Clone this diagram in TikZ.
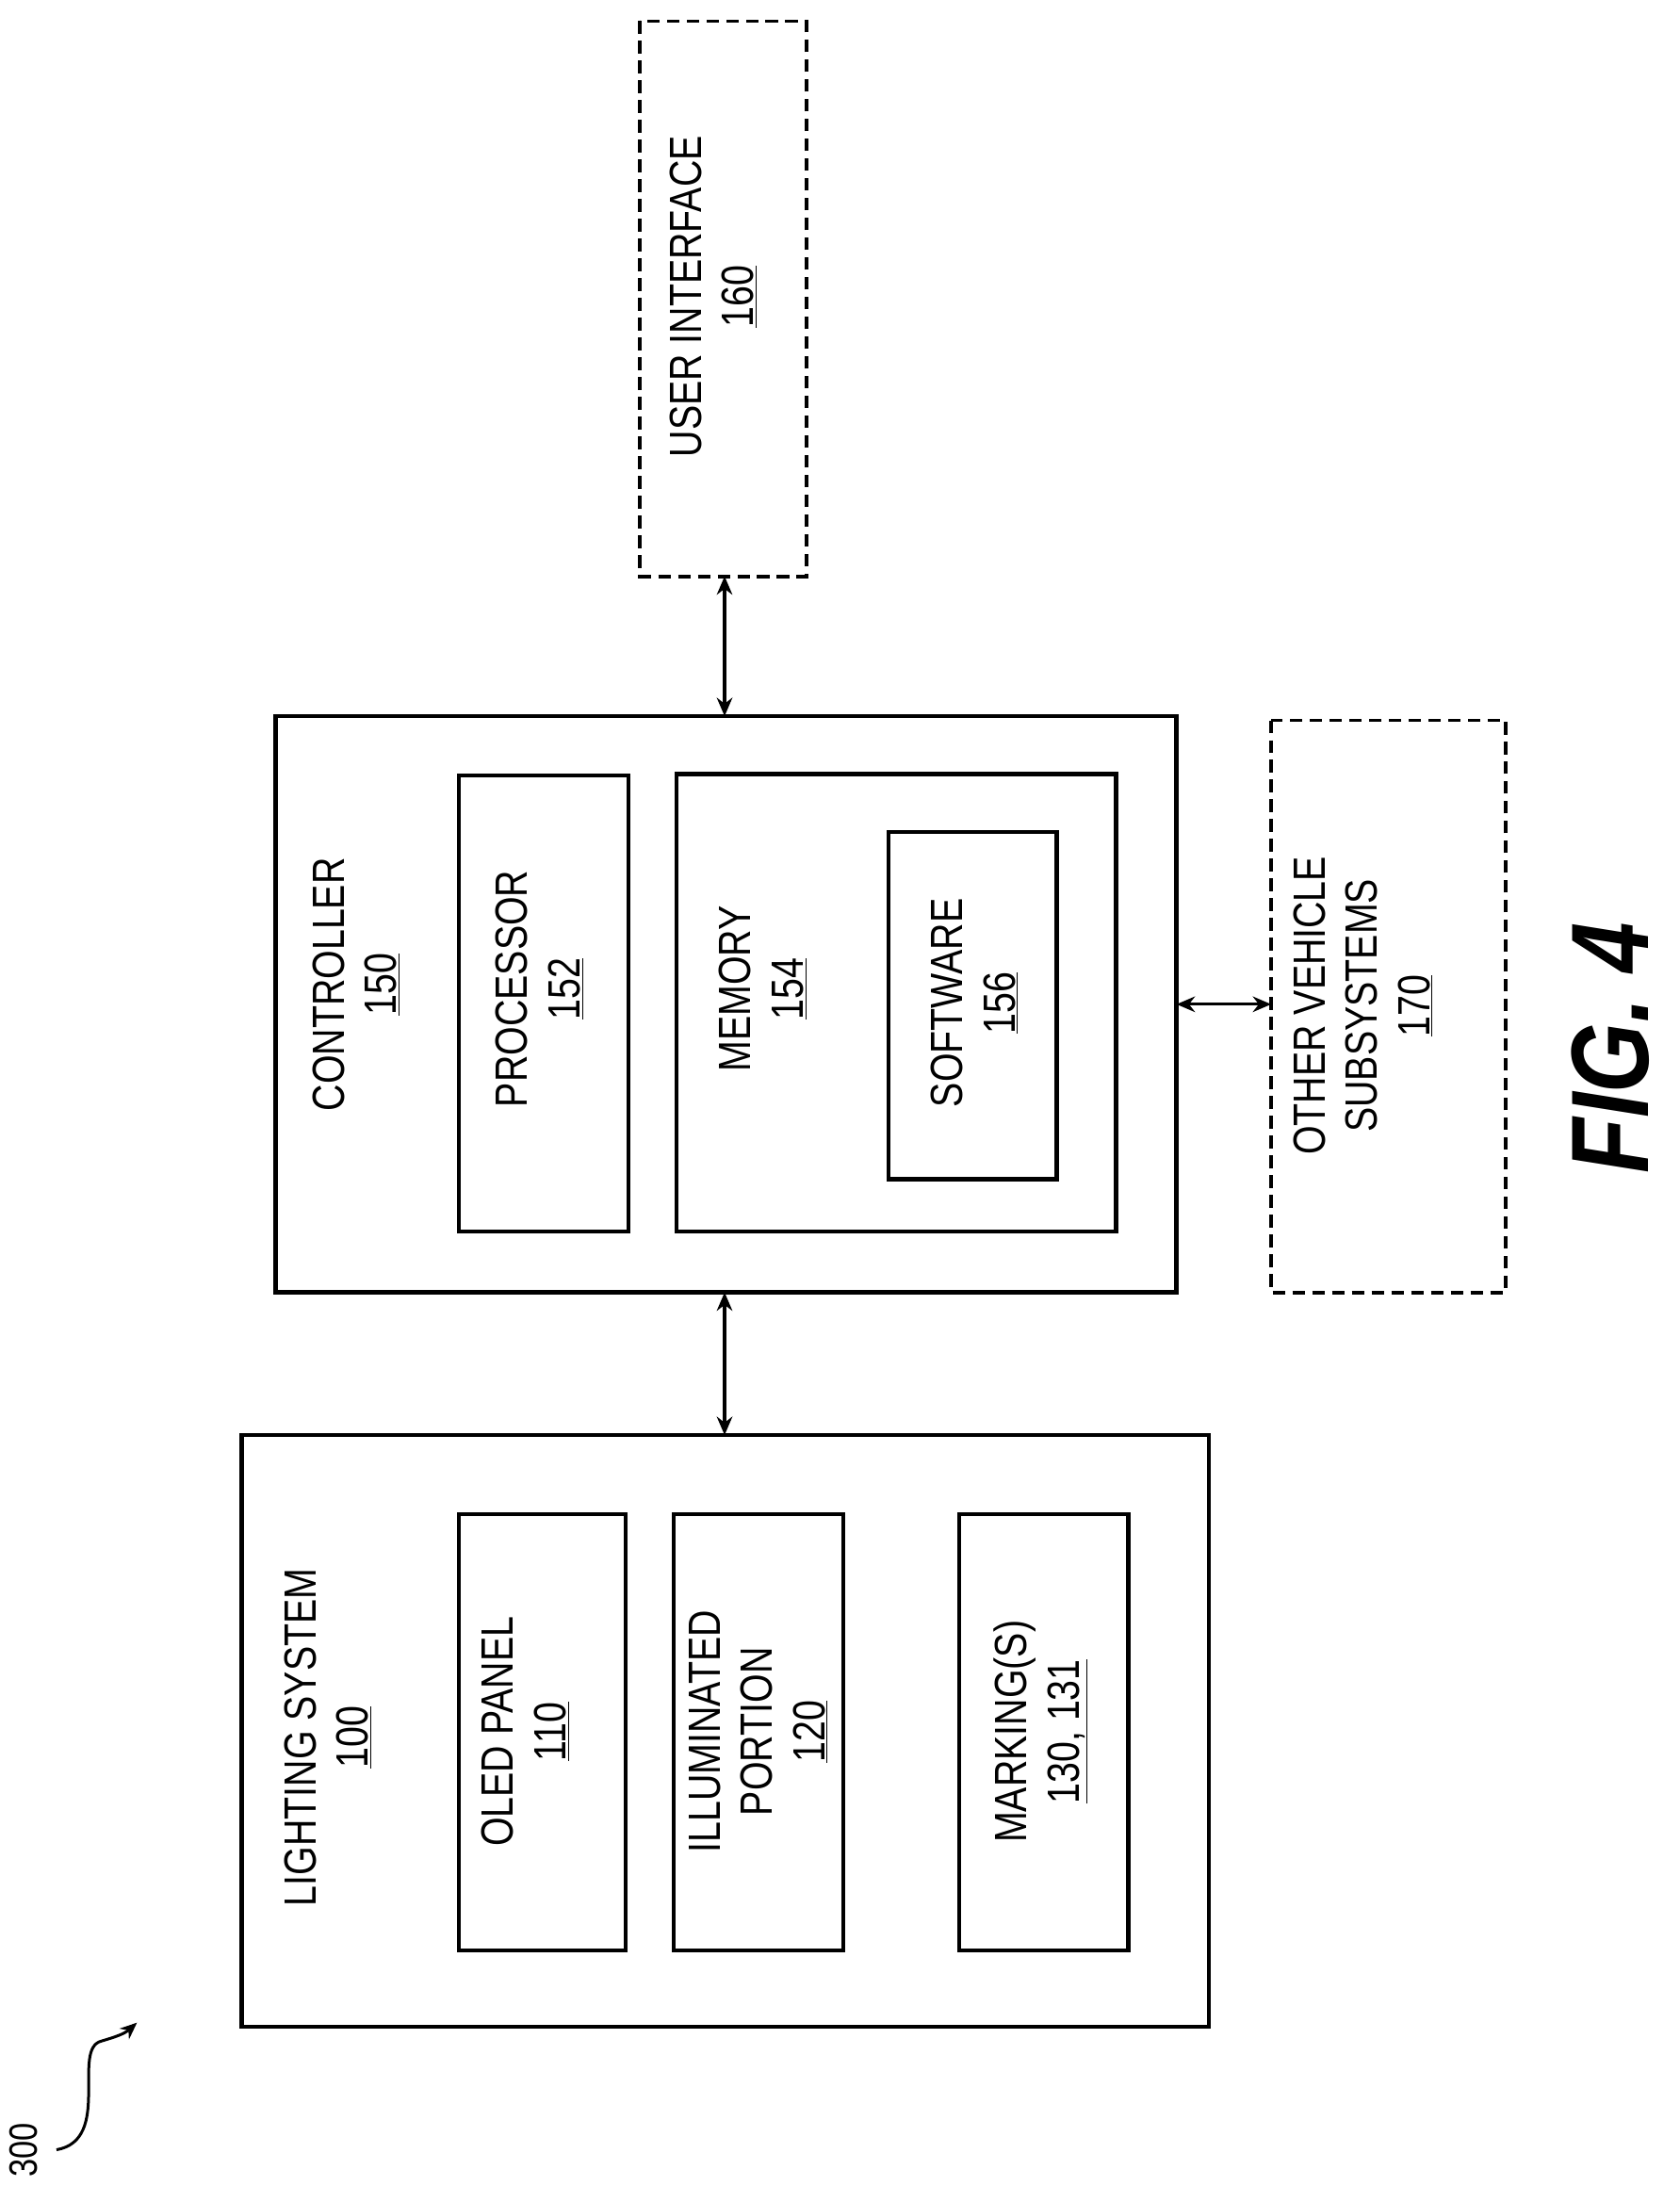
\documentclass[tikz,border=0pt]{standalone}
\usepackage{fontspec}
\setmainfont{Liberation Sans}[FakeStretch=0.82]
\usetikzlibrary{arrows.meta}
\begin{document}
\begin{tikzpicture}[x=1pt,y=-1pt,
  box/.style={draw,line width=3pt},
  dbox/.style={draw,line width=2.6pt,dash pattern=on 9pt off 5pt},
  lbl/.style={rotate=90,align=center,font=\fontsize{32}{37}\selectfont,inner sep=0},
  arr/.style={line width=2.2pt,{Stealth[length=13pt,width=11pt]}-{Stealth[length=13pt,width=11pt]}}]
\useasboundingbox (0,0) rectangle (1189,1559);
% user interface
\draw[dbox] (453,15) rectangle (571,408);
\coordinate (uib) at (513,408);
\node[lbl] (uit) at (505,210) {USER INTERFACE\\\underline{160}};
% controller
\draw[box] (195,507) rectangle (833,915);
\coordinate (ctop) at (513,507); \coordinate (cbot) at (513,915); \coordinate (cr) at (833,711);
\node[lbl] (ct) at (252,697) {CONTROLLER\\\underline{150}};
\draw[box] (325,549) rectangle (445,872);
\node[lbl] (pt) at (382,700) {PROCESSOR\\\underline{152}};
\draw[box] (479,548) rectangle (790,872);
\node[lbl] (mt) at (540,700) {MEMORY\\\underline{154}};
\draw[box] (629,589) rectangle (748,835);
\node[lbl] (st) at (690,710) {SOFTWARE\\\underline{156}};
% other vehicle subsystems
\draw[dbox] (900,510) rectangle (1066,915);
\coordinate (ol) at (900,711);
\node[lbl] (ot) at (965,712) {OTHER VEHICLE\\SUBSYSTEMS\\\underline{170}};
% lighting system
\draw[box] (171,1016) rectangle (856,1435);
\coordinate (ltop) at (513,1016);
\node[lbl] (lt) at (232,1230) {LIGHTING SYSTEM\\\underline{100}};
\draw[box] (325,1072) rectangle (443,1381);
\node[lbl] (ot1) at (372,1226) {OLED PANEL\\\underline{110}};
\draw[box] (477,1072) rectangle (597,1381);
\node[lbl] (it) at (537,1226) {ILLUMINATED\\PORTION\\\underline{120}};
\draw[box] (679,1072) rectangle (799,1381);
\node[lbl] (mk) at (737,1226) {MARKING(S)\\\underline{130, 131}};
% connectors
\draw[arr] (uib) -- (ctop);
\draw[arr] (cbot) -- (ltop);
\draw[arr] (cr) -- (ol);
% fig label
\node[rotate=90,inner sep=0,font=\fontsize{78}{82}\selectfont\bfseries\itshape] (fig) at (1140,742) {FIG. 4};
% 300
\node[lbl,font=\fontsize{28}{32}\selectfont] (n300) at (17,1522) {300};
\coordinate (sq) at (97,1432);
\draw[line width=2pt,-{Stealth[length=12pt,width=10pt]}] (40,1522) .. controls (80,1515) and (50,1450) .. (72,1445) .. controls (82,1442) and (88,1440) .. (sq);
\end{tikzpicture}
\end{document}
